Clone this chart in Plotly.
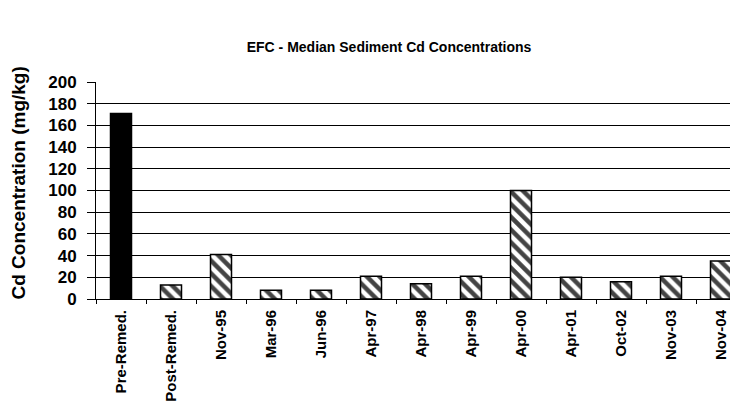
"""EFC median sediment Cd concentrations bar chart."""

import plotly.graph_objects as go

# Data
SAMPLE_EVENTS = [
    "Pre-Remed.", "Post-Remed.", "Nov-95", "Mar-96", "Jun-96", "Apr-97",
    "Apr-98", "Apr-99", "Apr-00", "Apr-01", "Oct-02", "Nov-03", "Nov-04",
]
CD_MEDIAN = [171, 13, 41, 8, 8, 21, 14, 21, 100, 20, 16, 21, 35]

FONT = "Arial, Liberation Sans, sans-serif"

# first bar solid black, the rest hatched
fill = ["black"] + ["white"] * (len(SAMPLE_EVENTS) - 1)
shapes = [""] + ["\\"] * (len(SAMPLE_EVENTS) - 1)

fig = go.Figure(
    go.Bar(
        x=SAMPLE_EVENTS,
        y=CD_MEDIAN,
        width=0.42,
        marker=dict(
            color=fill,
            line=dict(color="black", width=1.5),
            pattern=dict(
                shape=shapes,
                fgcolor="black",
                bgcolor="white",
                fgopacity=1,
                size=9,
                solidity=0.5,
            ),
        ),
        showlegend=False,
    )
)

# the page body adds an 8px margin, so the figure is sized to fit inside it
fig.update_layout(
    width=730,
    height=394,
    margin=dict(l=88, r=0, t=74, b=103),
    paper_bgcolor="white",
    plot_bgcolor="white",
    title=dict(
        text="EFC - Median Sediment Cd Concentrations",
        font=dict(family=FONT, size=14, color="black", weight="bold"),
        x=0.522,
        xanchor="center",
        xref="container",
        y=0.901,
        yref="container",
        yanchor="middle",
    ),
    annotations=[
        dict(
            text="Cd Concentration (mg/kg)",
            textangle=-90,
            xref="paper",
            yref="paper",
            x=0,
            y=0.5,
            xanchor="center",
            yanchor="middle",
            xshift=-78,
            yshift=7,
            showarrow=False,
            font=dict(family=FONT, size=19, color="black", weight="bold"),
        )
    ],
)

fig.update_xaxes(
    range=[-0.5, 12.34],
    automargin=False,
    showline=True,
    linecolor="black",
    linewidth=1,
    ticks="outside",
    tickson="boundaries",
    ticklen=4,
    tickcolor="black",
    tickangle=-90,
    ticklabelstandoff=4,
    tickfont=dict(family=FONT, size=15, color="black", weight="bold"),
    showgrid=False,
)

fig.update_yaxes(
    range=[0, 200],
    dtick=20,
    automargin=False,
    showline=True,
    linecolor="black",
    linewidth=1,
    ticks="outside",
    ticklen=8,
    tickcolor="black",
    ticklabelstandoff=7,
    showgrid=True,
    gridcolor="black",
    gridwidth=1,
    zeroline=False,
    tickfont=dict(family=FONT, size=17, color="black", weight="bold"),
)

fig.write_html("out.html")
